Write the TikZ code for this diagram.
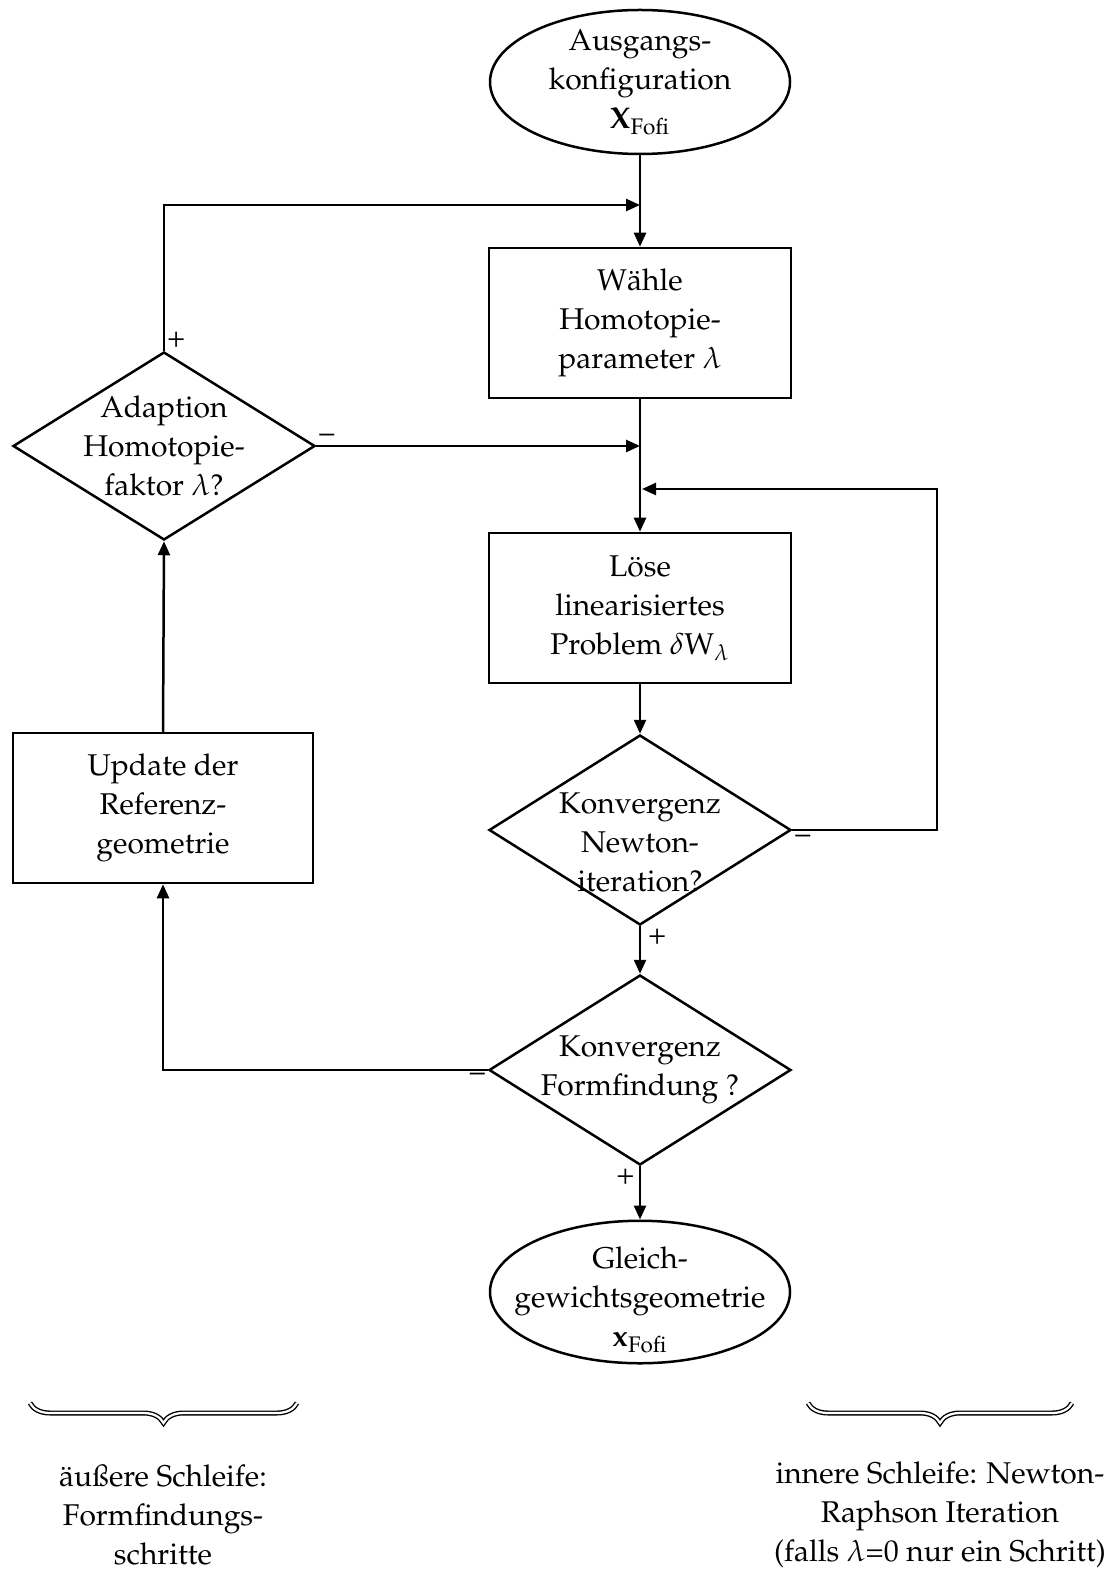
\documentclass[tikz,border=0pt]{standalone}
\usepackage[T1]{fontenc}
\usepackage{mathpazo}
\usetikzlibrary{shapes.geometric,arrows.meta,decorations.pathreplacing}
\begin{document}
\begin{tikzpicture}[x=0.4pt,y=-0.4pt,
  font=\fontsize{12}{15.6}\selectfont,
  every label/.style={align=center},
  proc/.style={draw, line width=1pt, minimum width=120.8pt, minimum height=60pt, align=center, inner sep=2pt},
  term/.style={draw, ellipse, line width=1pt, minimum width=120pt, minimum height=57.6pt, inner sep=0pt},
  dec/.style={draw, diamond, line width=1pt, minimum width=120.8pt, minimum height=76pt, inner sep=0pt},
  conn/.style={line width=1pt, -{Triangle[length=5.6pt,width=4.8pt]}},
  sgn/.style={inner sep=1pt},
  brc/.style={decorate, decoration={brace, mirror, amplitude=8pt}, double, line width=0.55pt, double distance=0.9pt}
]
\useasboundingbox (0,0) rectangle (1110,1577);

\node[term, label={center:Ausgangs-\\konfiguration\\$\mathbf{X}_{\mathrm{Fofi}}$}] (start) at (640,82) {};
\node[proc] (choose) at (640,323) {W\"ahle\\Homotopie-\\parameter $\lambda$};
\node[proc] (solve) at (640,608) {L\"ose\\linearisiertes\\Problem $\delta$W$_{\lambda}$};
\node[dec, label={[yshift=-5pt]center:Konvergenz\\Newton-\\iteration?}] (newton) at (640,830) {};
\node[dec, label={center:Konvergenz\\Formfindung ?}] (form) at (640,1070) {};
\node[term, minimum height=57pt, label={[yshift=-3pt]center:Gleich-\\gewichtsgeometrie\\$\mathbf{x}_{\mathrm{Fofi}}$}] (end) at (640,1292) {};
\node[dec, minimum height=75.2pt, label={center:Adaption\\Homotopie-\\faktor $\lambda$?}] (adapt) at (164,446) {};
\node[proc, minimum width=120pt] (update) at (163,808) {Update der\\Referenz-\\geometrie};

\coordinate (j1) at (640,205);
\coordinate (j2) at (640,446);
\coordinate (j3) at (642,489);
\coordinate (r1) at (937,830);

\draw[conn] (start.south) -- (choose.north);
\draw[conn] (adapt.north) |- (j1);
\draw[conn] (choose.south) -- (solve.north);
\draw[conn] (adapt.east) -- (j2);
\draw[conn] (newton.east) -- (r1) |- (j3);
\draw[conn] (solve.south) -- (newton.north);
\draw[conn] (newton.south) -- (form.north);
\draw[conn] (form.west) -| (update.south);
\draw[conn] (form.south) -- (end.north);
\draw[conn] (update.north) -- (adapt.south);

\node[sgn, anchor=south west] (p1) at (adapt.north) {+};
\node[sgn, anchor=south west] (m1) at (adapt.east) {--};
\node[sgn, anchor=north west, yshift=-1pt] (m2) at (newton.east) {--};
\node[sgn, anchor=north west, xshift=2pt] (p2) at (newton.south) {+};
\node[sgn, anchor=north east] (m3) at (form.west) {--};
\node[sgn, anchor=north east, xshift=-1pt] (p3) at (form.south) {+};

\coordinate (b1a) at (30,1403);
\coordinate (b1b) at (297,1403);
\coordinate (b2a) at (808,1403);
\coordinate (b2b) at (1072,1403);
\draw[brc] (b1a) -- (b1b);
\draw[brc] (b2a) -- (b2b);

\node[align=center] (t1) at (163,1515) {\"au\ss ere Schleife:\\Formfindungs-\\schritte};
\node[align=center] (t2) at (940,1515) {innere Schleife: Newton-\\Raphson Iteration\\(falls $\lambda$=0 nur ein Schritt)};
\end{tikzpicture}
\end{document}
